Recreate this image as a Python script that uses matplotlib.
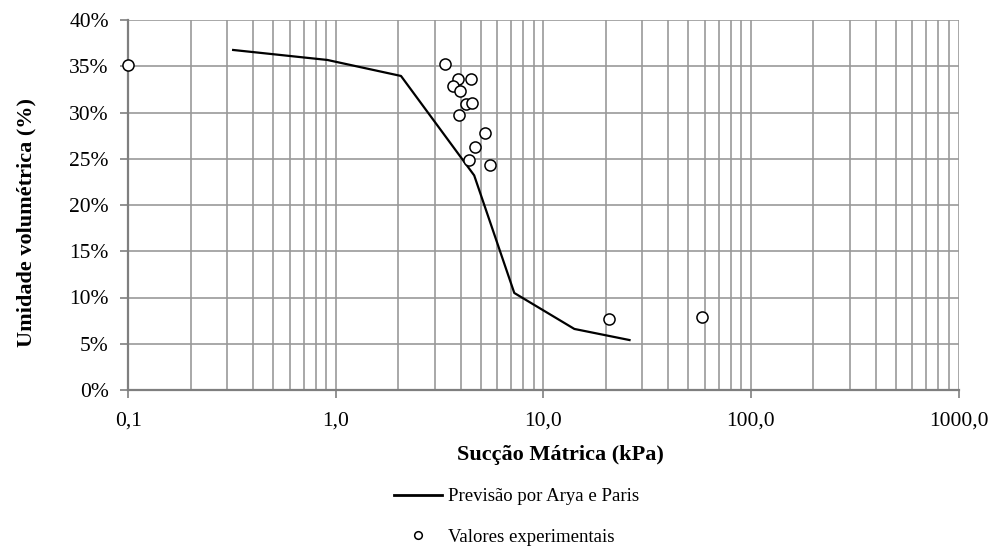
import matplotlib
matplotlib.use("Agg")
import matplotlib.pyplot as plt
from matplotlib.ticker import FixedLocator, FuncFormatter, LogLocator, NullFormatter
from matplotlib.lines import Line2D

plt.rcParams['font.family'] = ['Liberation Serif', 'DejaVu Serif']

# Arya & Paris prediction (suction kPa, volumetric moisture fraction)
pred_suction = [0.32, 0.91, 2.06, 4.64, 7.24, 14.1, 26.0]
pred_theta = [0.3676, 0.3568, 0.3395, 0.2320, 0.1049, 0.0660, 0.0540]

# Experimental values
exp_suction = [0.1, 3.36, 3.89, 4.49, 3.67, 3.97, 4.25, 4.54, 3.93, 5.25, 4.70, 4.40, 5.55, 20.6, 57.9]
exp_theta = [0.351, 0.3524, 0.336, 0.336, 0.329, 0.323, 0.309, 0.310, 0.297, 0.278, 0.263, 0.249, 0.243, 0.0768, 0.079]

x_ticks = [0.1, 1, 10, 100, 1000]
x_labels = ["0,1", "1,0", "10,0", "100,0", "1000,0"]
y_ticks = [0, 0.05, 0.10, 0.15, 0.20, 0.25, 0.30, 0.35, 0.40]

fig = plt.figure(figsize=(9.93, 5.5), dpi=100)
ax = fig.add_axes([128.3 / 993, 1 - 390 / 550, (958.5 - 128.3) / 993, (390 - 20) / 550])

grid_c = "#999999"
ax.set_xscale("log")
ax.set_xlim(0.1, 1000)
ax.set_ylim(0, 0.40)

ax.xaxis.set_major_locator(FixedLocator(x_ticks))
ax.xaxis.set_major_formatter(FuncFormatter(lambda v, p: x_labels[x_ticks.index(v)] if v in x_ticks else ""))
ax.xaxis.set_minor_locator(LogLocator(base=10, subs=range(2, 10)))
ax.xaxis.set_minor_formatter(NullFormatter())
ax.yaxis.set_major_locator(FixedLocator(y_ticks))
ax.yaxis.set_major_formatter(FuncFormatter(lambda v, p: f"{v*100:.0f}%"))

ax.grid(True, which="major", axis="both", color=grid_c, lw=1.2)
ax.grid(True, which="minor", axis="x", color=grid_c, lw=1.2)
ax.set_axisbelow(True)

for s in ("top", "right"):
    ax.spines[s].set_visible(False)
for s in ("left", "bottom"):
    ax.spines[s].set_color("#7f7f7f")
    ax.spines[s].set_linewidth(1.6)

ax.tick_params(axis="both", which="major", direction="out", length=6, width=1.2,
               color="#7f7f7f", labelsize=15.5)
ax.tick_params(axis="y", which="major", pad=8)
ax.tick_params(axis="x", which="major", pad=9.5)
ax.tick_params(axis="x", which="minor", length=0)

ax.plot(pred_suction, pred_theta, color="black", lw=1.6, zorder=3)
ax.plot(exp_suction, exp_theta, linestyle="none", marker="o", markersize=8,
        markerfacecolor="white", markeredgecolor="black", markeredgewidth=1.1,
        zorder=4, clip_on=False)

ax.set_xlabel("Sucção Mátrica (kPa)", fontsize=16, fontweight="bold")
ax.set_ylabel("Umidade volumétrica (%)", fontsize=16, fontweight="bold")
ax.xaxis.set_label_coords(0.52, -0.148)
ax.yaxis.set_label_coords(-0.110, 0.454)

handles = [
    Line2D([], [], color="black", lw=2),
    Line2D([], [], linestyle="none", marker="o", markersize=5.5,
           markerfacecolor="white", markeredgecolor="black", markeredgewidth=1.1),
]
fig.legend(handles, ["Previsão por Arya e Paris", "Valores experimentais"],
           loc="center", bbox_to_anchor=(0.52, 1 - 517 / 550), frameon=False,
           fontsize=13.5, handlelength=2.6, handletextpad=0.3, labelspacing=1.25)

fig.savefig("out.png", dpi=100, facecolor="white")
